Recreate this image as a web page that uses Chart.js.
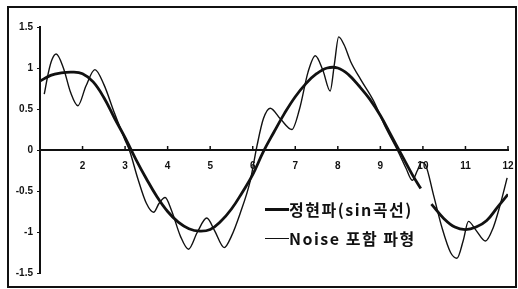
<!DOCTYPE html>
<html>
<head>
<meta charset="utf-8">
<script src="https://cdn.jsdelivr.net/npm/chart.js@4/dist/chart.umd.min.js"></script>
<style>
  html, body { margin: 0; padding: 0; background: #fff; }
  #wrap { position: relative; width: 518px; height: 289px; overflow: hidden; }
  #frame { position: absolute; left: 7px; top: 6px; width: 506px; height: 278px; border: 2px solid #111; }
  #c { position: absolute; left: 0; top: 0; }
  .leg { position: absolute; left: 265px; font-family: "Noto Sans CJK KR", sans-serif; font-weight: 700; color: #111; white-space: nowrap; display: flex; align-items: center; }
  .leg .sw { display: inline-block; width: 24px; background: #111; }
</style>
</head>
<body>
<div id="wrap">
  <div id="frame"></div>
  <canvas id="c" width="518" height="289"></canvas>
  <div id="legend"></div>
</div>
<script>
// ---- data ----
const seriesNames = ["정현파(sin곡선)", "Noise 포함 파형"];

const sineX = [1.0, 1.25, 1.5, 1.75, 2.0, 2.25, 2.5, 2.75, 3.0, 3.25, 3.5, 3.75, 4.0, 4.25, 4.5, 4.75, 5.0, 5.25, 5.5, 5.75, 6.0, 6.25, 6.5, 6.75, 7.0, 7.25, 7.5, 7.75, 8.0, 8.25, 8.5, 8.75, 9.0, 9.25, 9.5, 9.75, 9.95, 10.07, 10.2, 10.5, 10.75, 11.0, 11.25, 11.5, 11.75, 12.0];
const sineY = [0.84, 0.91, 0.94, 0.95, 0.93, 0.83, 0.64, 0.39, 0.15, -0.11, -0.35, -0.57, -0.75, -0.88, -0.96, -0.99, -0.97, -0.87, -0.72, -0.52, -0.30, -0.02, 0.22, 0.45, 0.65, 0.81, 0.93, 1.00, 1.00, 0.92, 0.78, 0.62, 0.42, 0.18, -0.06, -0.30, -0.47, null, -0.66, -0.84, -0.94, -0.97, -0.94, -0.86, -0.70, -0.54];

const noiseX = [1.1, 1.2, 1.28, 1.38, 1.55, 1.72, 1.89, 2.08, 2.29, 2.5, 2.75, 3.0, 3.1, 3.3, 3.5, 3.67, 3.8, 3.94, 4.1, 4.3, 4.49, 4.7, 4.92, 5.1, 5.33, 5.5, 5.7, 5.94, 6.1, 6.25, 6.41, 6.65, 6.92, 7.1, 7.3, 7.47, 7.65, 7.82, 7.92, 8.02, 8.15, 8.3, 8.55, 8.84, 9.1, 9.4, 9.6, 9.75, 9.87, 9.97, 10.06, 10.25, 10.45, 10.65, 10.8, 10.95, 11.07, 11.25, 11.47, 11.65, 11.8, 11.98];
const noiseY = [0.68, 0.95, 1.10, 1.17, 1.00, 0.70, 0.54, 0.78, 0.98, 0.80, 0.45, 0.12, 0.00, -0.35, -0.65, -0.76, -0.65, -0.58, -0.75, -1.05, -1.21, -1.00, -0.83, -0.98, -1.19, -1.05, -0.78, -0.38, 0.05, 0.38, 0.51, 0.38, 0.25, 0.50, 0.95, 1.15, 0.97, 0.72, 1.05, 1.38, 1.28, 1.08, 0.85, 0.60, 0.30, 0.00, -0.22, -0.37, -0.25, -0.15, -0.18, -0.55, -0.95, -1.25, -1.32, -1.10, -0.87, -0.98, -1.11, -0.95, -0.70, -0.34];

const xTicks = [2, 3, 4, 5, 6, 7, 8, 9, 10, 11, 12];
const yTicks = [-1.5, -1, -0.5, 0, 0.5, 1, 1.5];

// ---- chart ----
const toPts = (xs, ys) => xs.map((x, i) => ({ x: x, y: ys[i] }));

const upTicks = {
  id: 'upTicks',
  afterDraw(chart) {
    const xs = chart.scales.x, ys = chart.scales.y;
    const y0 = ys.getPixelForValue(0);
    const ctx = chart.ctx;
    ctx.save();
    ctx.strokeStyle = '#111';
    ctx.lineWidth = 1.5;
    xTicks.forEach(v => {
      const px = xs.getPixelForValue(v);
      ctx.beginPath();
      ctx.moveTo(px, y0);
      ctx.lineTo(px, y0 - 4);
      ctx.stroke();
    });
    ctx.restore();
  }
};

const tickFont = { family: 'Liberation Sans, Arial, sans-serif', size: 10, weight: 'bold' };

const chart = new Chart(document.getElementById('c'), {
  type: 'line',
  data: {
    datasets: [
      {
        label: seriesNames[0],
        data: toPts(sineX, sineY),
        borderColor: '#111',
        borderWidth: 2.8,
        pointRadius: 0,
        tension: 0.4,
        spanGaps: false,
        fill: false
      },
      {
        label: seriesNames[1],
        data: toPts(noiseX, noiseY),
        borderColor: '#111',
        borderWidth: 1.4,
        pointRadius: 0,
        cubicInterpolationMode: 'monotone',
        fill: false
      }
    ]
  },
  options: {
    responsive: false,
    animation: false,
    devicePixelRatio: 1,
    layout: { padding: { top: 27, right: 10, bottom: 16, left: 0 } },
    plugins: { legend: { display: false }, tooltip: { enabled: false } },
    scales: {
      x: {
        type: 'linear',
        position: { y: 0 },
        min: 1, max: 12,
        afterBuildTicks: (s) => { s.ticks = [1].concat(xTicks).map(v => ({ value: v })); },
        afterFit: (s) => { s.paddingLeft = 0; s.paddingRight = 0; },
        ticks: {
          callback: (v) => (xTicks.includes(v) ? String(v) : ''),
          font: tickFont,
          color: '#111',
          padding: 10,
          maxRotation: 0,
          autoSkip: false
        },
        grid: { display: true, drawOnChartArea: false, drawTicks: false },
        border: { display: true, color: '#111', width: 2 }
      },
      y: {
        type: 'linear',
        min: -1.5, max: 1.5,
        afterBuildTicks: (s) => { s.ticks = yTicks.map(v => ({ value: v })); },
        afterFit: (s) => { s.width = 40; s.paddingTop = 0; s.paddingBottom = 0; },
        ticks: {
          callback: (v) => String(v),
          font: tickFont,
          color: '#111',
          padding: 4,
          autoSkip: false
        },
        grid: { display: true, drawOnChartArea: false, tickLength: 3, color: '#111', lineWidth: 1 },
        border: { display: true, color: '#111', width: 2 }
      }
    }
  },
  plugins: [upTicks]
});

// HTML legend built from dataset labels
const legend = document.getElementById('legend');
const legTops = [197, 226];
chart.data.datasets.forEach((ds, i) => {
  const row = document.createElement('div');
  row.className = 'leg';
  row.style.top = legTops[i] + 'px';
  row.style.fontSize = '16px';
  row.style.letterSpacing = '1.5px';
  const sw = document.createElement('span');
  sw.className = 'sw';
  sw.style.height = (i === 0 ? 3 : 1) + 'px';
  const tx = document.createElement('span');
  tx.textContent = ds.label;
  row.appendChild(sw);
  row.appendChild(tx);
  legend.appendChild(row);
});
</script>
</body>
</html>
